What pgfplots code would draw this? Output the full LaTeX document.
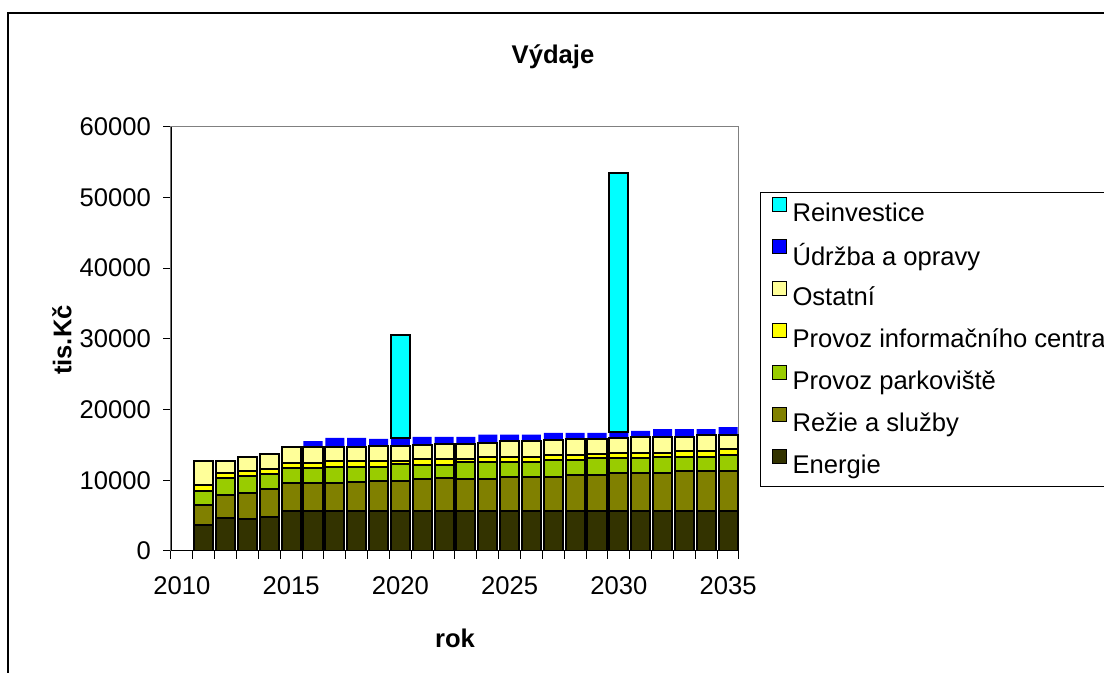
\documentclass[border=0pt]{standalone}
\usepackage{fontspec}
\setmainfont{Liberation Sans}
\usepackage{pgfplots}
\usepackage{pgfplotstable}
\pgfplotsset{compat=1.18}

\definecolor{energie}{HTML}{333300}
\definecolor{rezie}{HTML}{808000}
\definecolor{parking}{HTML}{99CC00}
\definecolor{infoc}{HTML}{FFFF00}
\definecolor{ostatni}{HTML}{FFFF99}
\definecolor{udrzba}{HTML}{0000FF}
\definecolor{reinv}{HTML}{00FFFF}

\newcommand\lab{\fontsize{12.8}{15}\selectfont}

% rok, Energie, Rezie a sluzby, Provoz parkoviste, Provoz inf. centra, Ostatni, Udrzba a opravy
\pgfplotstableread{
rok E R P I O U
2011 3680 2820 2030 800 3440 0
2012 4620 3300 2350 800 1700 0
2013 4520 3730 2310 800 1980 0
2014 4850 3920 2070 760 2070 0
2015 5660 3910 2120 800 2260 0
2016 5660 3960 2070 800 2210 850
2017 5660 3910 2350 850 1980 1230
2018 5660 4140 2120 800 2030 1230
2019 5660 4280 1980 800 2180 940
2020 5660 4280 2320 460 2130 1180
2021 5660 4520 2020 760 2030 1130
2022 5660 4610 1930 760 2220 940
2023 5660 4570 2310 420 2220 940
2024 5660 4570 2310 700 2080 1130
2025 5660 4850 2030 700 2270 940
2026 5660 4850 2030 700 2270 940
2027 5660 4850 2310 750 2130 990
2028 5660 5090 2070 750 2270 850
2029 5660 5090 2350 570 2170 850
2030 5660 5410 2030 800 2030 940
2031 5660 5410 2030 800 2220 850
2032 5660 5410 2270 560 2270 1080
2033 5660 5700 1980 800 2030 1080
2034 5660 5700 1980 800 2260 850
2035 5660 5700 2210 810 2020 1130
}\vydaje

% reinvestice: base = vrchol sloupce pod ni
\pgfplotstableread{
rok base Re
2020 16030 14470
2030 16870 36580
}\reinvest

\pgfplotsset{
  vydajeaxis/.style={
    at={(85.5pt,61pt)}, anchor=south west,
    scale only axis, width=284pt, height=212.15pt,
    xmin=2009.5, xmax=2035.5, ymin=0, ymax=60000,
    ybar stacked, bar width=0.87,
  },
}

\begin{document}
\begin{tikzpicture}
\path[use as bounding box] (0,0) rectangle (552pt,336.5pt);
\clip (0,0) rectangle (552pt,336.5pt);
\draw[line width=0.7pt] (4pt,-20pt) rectangle (700pt,330pt);

\begin{axis}[
  vydajeaxis,
  axis line style={draw=gray, line width=0.5pt},
  tick pos=left, tick align=outside,
  xtick={2010,2015,...,2035},
  major x tick style={draw=none},
  minor xtick={2009.5,2010.5,...,2035.5},
  minor tick length=4pt,
  minor x tick style={black, line width=0.5pt},
  ytick={0,10000,...,60000},
  major tick length=4pt,
  major y tick style={black, line width=0.5pt},
  scaled y ticks=false,
  ticklabel style={font=\lab},
  xticklabel style={yshift=-5.3pt},
  yticklabel style={xshift=-2.5pt},
  /pgf/number format/assume math mode=true,
  /pgf/number format/1000 sep={},
  title={Výdaje},
  title style={at={(axis description cs:0.6725,1.136)}, anchor=center, font=\lab\bfseries},
  xlabel={rok},
  xlabel style={at={(axis description cs:0.5,-0.205)}, anchor=center, font=\lab\bfseries},
  ylabel={tis.Kč},
  ylabel style={at={(axis description cs:-0.192,0.497)}, anchor=center, font=\lab\bfseries},
  every axis plot/.append style={draw=black, line width=1pt},
  legend image code/.code={\draw[#1, line width=0.5pt] (0pt,1pt) rectangle (7pt,8pt);},
  reverse legend,
  legend cell align=left,
  legend style={at={(axis description cs:1.037,0.846)}, anchor=north west,
    draw=black, line width=0.5pt, font=\lab,
    inner xsep=5.5pt, inner ysep=0pt, row sep=0pt, column sep=3pt,
    nodes={inner sep=0pt, minimum height=21pt}},
]
\addplot[fill=energie] table[x=rok, y=E] {\vydaje};
\addlegendentry{Energie}
\addplot[fill=rezie] table[x=rok, y=R] {\vydaje};
\addlegendentry{Režie a služby}
\addplot[fill=parking] table[x=rok, y=P] {\vydaje};
\addlegendentry{Provoz parkoviště}
\addplot[fill=infoc] table[x=rok, y=I] {\vydaje};
\addlegendentry{Provoz informačního centra}
\addplot[fill=ostatni] table[x=rok, y=O] {\vydaje};
\addlegendentry{Ostatní}
\addplot[fill=udrzba, draw=none] table[x=rok, y=U] {\vydaje};
\addlegendentry{Údržba a opravy}
\addlegendimage{fill=reinv, draw=black}
\addlegendentry{Reinvestice}
\draw[black, line width=0.8pt] (rel axis cs:0,1) -- (rel axis cs:0,0) -- (rel axis cs:1,0);
\end{axis}

\begin{axis}[
  vydajeaxis,
  hide axis,
  every axis plot/.append style={line width=1pt},
]
\addplot[fill=none, draw=none] table[x=rok, y=base] {\reinvest};
\addplot[fill=reinv, draw=black] table[x=rok, y=Re] {\reinvest};
\end{axis}
\end{tikzpicture}
\end{document}
